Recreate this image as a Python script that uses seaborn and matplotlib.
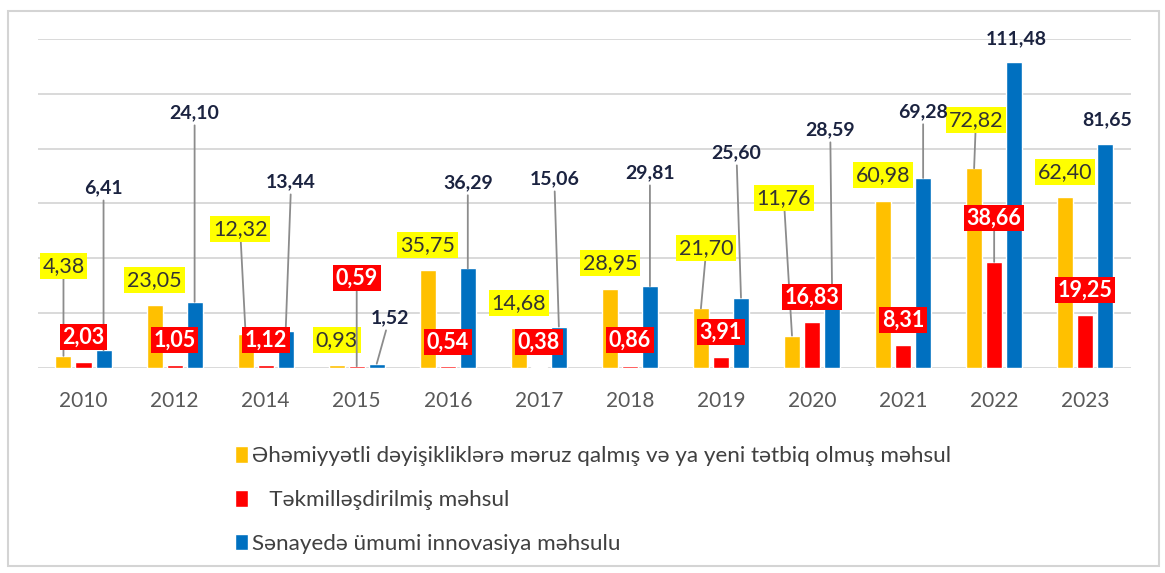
import matplotlib
matplotlib.use("Agg")
import matplotlib.pyplot as plt
from matplotlib.patches import Rectangle
import pandas as pd
import seaborn as sns

years = ["2010", "2012", "2014", "2015", "2016", "2017",
         "2018", "2019", "2020", "2021", "2022", "2023"]
series = ["Əhəmiyyətli dəyişikliklərə məruz qalmış və ya yeni tətbiq olmuş məhsul",
          "   Təkmilləşdirilmiş məhsul",
          "Sənayedə ümumi innovasiya məhsulu"]
new_product = [4.38, 23.05, 12.32, 0.93, 35.75, 14.68, 28.95, 21.70, 11.76, 60.98, 72.82, 62.40]
improved = [2.03, 1.05, 1.12, 0.59, 0.54, 0.38, 0.86, 3.91, 16.83, 8.31, 38.66, 19.25]
total = [6.41, 24.10, 13.44, 1.52, 36.29, 15.06, 29.81, 25.60, 28.59, 69.28, 111.48, 81.65]

colors = ["#ffc000", "#ff0000", "#0070c0"]

# where Excel had the labels dragged to (data units), and which ones got a leader line
label_y = [
    [37.2, 32.1, 50.7, 10.2, 44.9, 23.7, 38.3, 43.8, 62.0, 70.4, 90.4, 71.5],
    [11.3, 10.2, 10.2, 32.8, 9.5, 9.5, 10.2, 13.1, 25.9, 17.5, 54.7, 28.4],
    [65.6, 93.0, 67.8, 18.2, 67.5, 68.9, 71.1, 78.4, 86.8, 93.4, 120.0, 90.4],
]
label_dx = [
    [0, 0, -0.06, 0, 0, 0, 0, 0.06, -0.09, 0, 0.02, 0],
    [0, 0, 0, 0, 0, 0, 0, 0, 0, 0, 0, 0],
    [0, 0, 0.06, 0.14, 0, -0.05, 0, -0.05, -0.02, 0, 0.02, 0.02],
]
leader = [
    [1, 0, 1, 0, 0, 0, 0, 1, 1, 0, 1, 0],
    [0, 0, 0, 1, 0, 0, 0, 0, 0, 0, 1, 0],
    [1, 1, 1, 1, 1, 1, 1, 1, 1, 1, 0, 0],
]

df = pd.DataFrame({
    "year": years * 3,
    "value": new_product + improved + total,
    "series": [series[0]] * 12 + [series[1]] * 12 + [series[2]] * 12,
})

sns.set_style("white")
plt.rcParams["font.family"] = ["Lato", "Open Sans", "DejaVu Sans"]

fig = plt.figure(figsize=(11.65, 5.73), dpi=100)
ax = fig.add_axes([0.0326, 0.358, 0.938, 0.574])

sns.barplot(data=df, x="year", y="value", hue="series", palette=colors,
            width=0.66, gap=0.2, errorbar=None, saturation=1, ax=ax)

ax.set_ylim(0, 120)
ax.set_xlim(-0.5, 11.5)
ax.set_yticks(range(0, 121, 20))
ax.set_yticklabels([])
ax.yaxis.grid(True, color="#d9d9d9", lw=1.4)
ax.set_axisbelow(True)
for sp in ax.spines.values():
    sp.set_visible(False)
ax.set_xlabel("")
ax.set_ylabel("")
ax.tick_params(axis="x", length=0, pad=17, labelsize=15, labelcolor="#595959")
ax.tick_params(axis="y", length=0)

styles = [
    dict(color="#333333", fontsize=15.5, fontweight="normal",
         bbox=dict(boxstyle="square,pad=0.13", fc="#ffff00", ec="none")),
    dict(color="white", fontsize=15.5, fontweight="bold",
         bbox=dict(boxstyle="square,pad=0.13", fc="#ff0000", ec="none")),
    dict(color="#1b2340", fontsize=14, fontweight="bold",
         bbox=dict(boxstyle="square,pad=0.2", fc="none", ec="none")),
]
zorders = [5, 7, 6]
values = [new_product, improved, total]

for k in range(3):
    bars = ax.containers[k]
    for i, bar in enumerate(bars):
        bx = bar.get_x() + bar.get_width() / 2
        v = values[k][i]
        arrow = None
        if leader[k][i]:
            arrow = dict(arrowstyle="-", color="#8c8c8c", lw=1.3,
                         shrinkA=0, shrinkB=0)
        ax.annotate(f"{v:.2f}".replace(".", ","), xy=(bx, v),
                    xytext=(bx + label_dx[k][i], label_y[k][i]),
                    ha="center", va="center", arrowprops=arrow,
                    annotation_clip=False, zorder=zorders[k], **styles[k])

handles, labels = ax.get_legend_handles_labels()
ax.get_legend().remove()
fig.legend(handles, labels, loc="upper left", bbox_to_anchor=(0.202, 0.221),
           frameon=False, fontsize=16.2, labelcolor="#404040",
           handlelength=0.55, handleheight=0.75, handletextpad=0.2,
           labelspacing=1.05, borderpad=0, borderaxespad=0)

fig.patches.append(Rectangle((0.007, 0.012), 0.988, 0.968, transform=fig.transFigure,
                             fill=False, ec="#d4d4d4", lw=1.5))

fig.savefig("out.png", dpi=100)
